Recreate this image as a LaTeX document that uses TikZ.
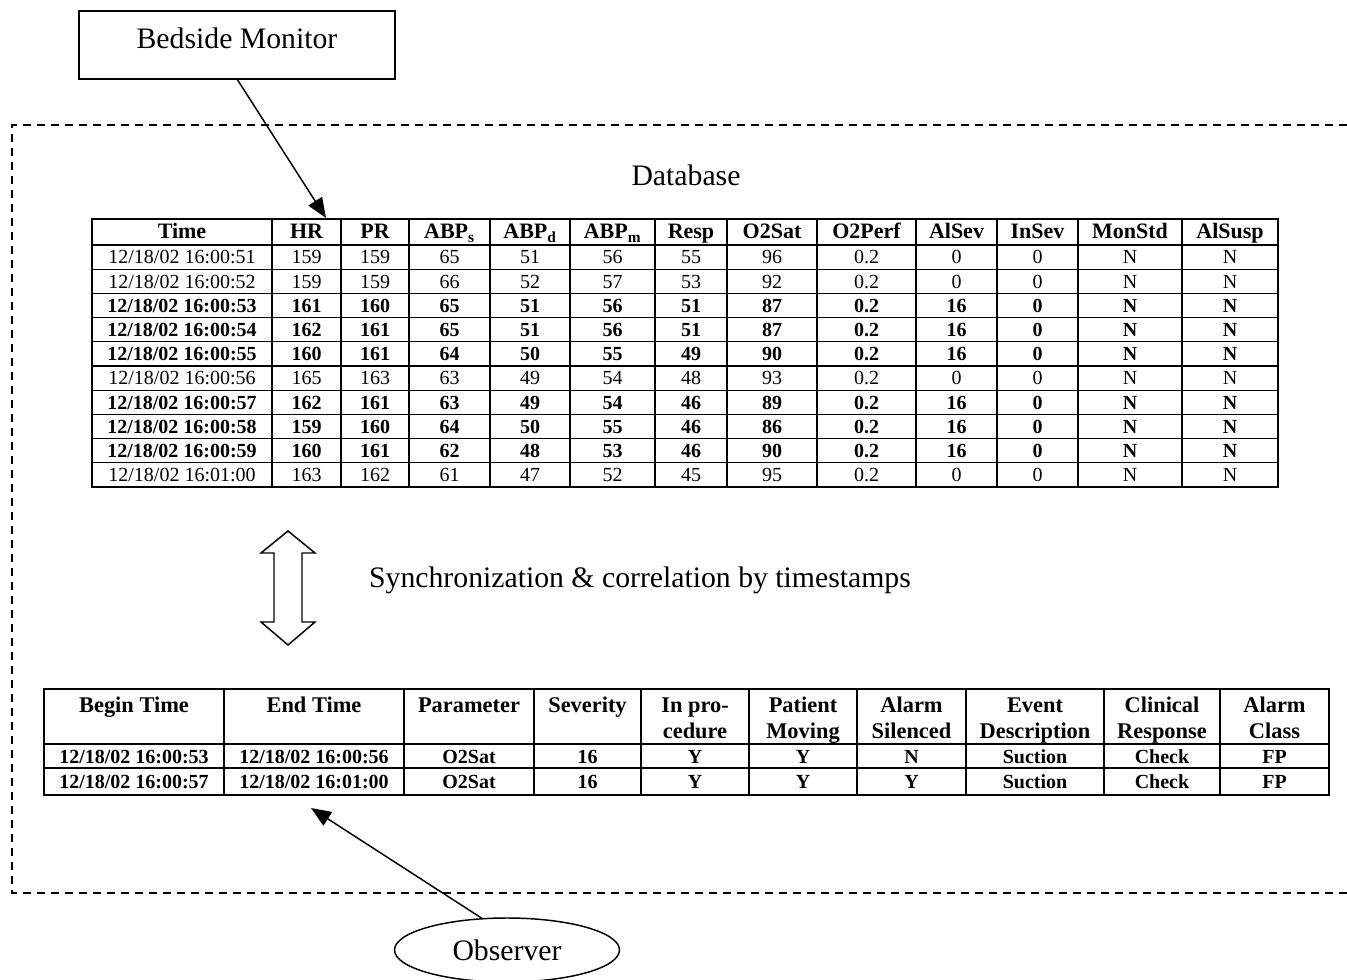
\documentclass[tikz,border=0pt]{standalone}
\usepackage{fontspec}
\setmainfont{Liberation Serif}
\usetikzlibrary{arrows.meta,shapes.geometric}
\def\dbx{{182,306.5,375,449.5,530,612.5,691,772,866.5,956.5,1037.5,1130,1230}}
\def\obx{{134,314,469,587.5,695,803,911.5,1035,1162,1274.5}}
\newcommand\dbrow[3]{%
  \foreach \v [count=\c] in {#3}{%
    \pgfmathsetmacro\xx{\dbx[\c-1]}%
    \node[#2, anchor=base] (db-#1-\c) at (\xx,{264+(#1-1)*24.2}) {\v};}}
\newcommand\obrow[2]{%
  \foreach \v [count=\c] in {#2}{%
    \pgfmathsetmacro\xx{\obx[\c-1]}%
    \node[obdata, anchor=base] (ob-#1-\c) at (\xx,{763+(#1-1)*25}) {\v};}}
\begin{document}
\begin{tikzpicture}[x=0.75pt,y=-0.75pt,
  every node/.style={inner sep=0pt, outer sep=0pt},
  tline/.style={line width=1pt},
  tframe/.style={draw, line width=1.4pt, anchor=north west},
  dbhead/.style={font=\fontsize{16.5}{18}\selectfont\bfseries},
  dbreg/.style={font=\fontsize{15}{17}\selectfont},
  dbbold/.style={font=\fontsize{15}{17}\selectfont\bfseries},
  obhead/.style={font=\fontsize{16.8}{19}\selectfont\bfseries},
  obdata/.style={font=\fontsize{15}{17}\selectfont\bfseries},
  bigtext/.style={font=\fontsize{22.3}{26}\selectfont},
  link/.style={line width=1.1pt, -{Triangle[length=15pt,width=12pt]}},
  region/.style={line width=1.1pt, dash pattern=on 6pt off 4.5pt}
]
\useasboundingbox (0,0) rectangle (1347,980);

% dashed region
\draw[region] (1347,125) -- (12,125) -- (12,893) -- (1347,893);

% Bedside monitor
\node[draw, line width=1.1pt, minimum width=316*0.75pt, minimum height=68*0.75pt] (bm) at (237,45) {};
\node[bigtext] (bmtext) at (237,38) {Bedside Monitor};

% Database label
\node[bigtext] (dblabel) at (686,175) {Database};

% top table
\node[tframe, minimum width=1186*0.75pt, minimum height=268*0.75pt] (db) at (92,219) {};
\foreach \x in {272,341,409,490,570,655,727,817,916,997,1078,1182}
  \draw[tline] (\x,219) -- (\x,487);
\foreach \k in {0,...,9}
  \draw[tline] (92,{245+\k*24.2}) -- (1278,{245+\k*24.2});
\foreach \v [count=\c] in {Time,HR,PR,ABP\textsubscript{s},ABP\textsubscript{d},ABP\textsubscript{m},Resp,O2Sat,O2Perf,AlSev,InSev,MonStd,AlSusp}{%
  \pgfmathsetmacro\xx{\dbx[\c-1]}%
  \node[dbhead, anchor=base] (dbh-\c) at (\xx,239) {\v};}
\dbrow{1}{dbreg}{12/18/02 16:00:51,159,159,65,51,56,55,96,0.2,0,0,N,N}
\dbrow{2}{dbreg}{12/18/02 16:00:52,159,159,66,52,57,53,92,0.2,0,0,N,N}
\dbrow{3}{dbbold}{12/18/02 16:00:53,161,160,65,51,56,51,87,0.2,16,0,N,N}
\dbrow{4}{dbbold}{12/18/02 16:00:54,162,161,65,51,56,51,87,0.2,16,0,N,N}
\dbrow{5}{dbbold}{12/18/02 16:00:55,160,161,64,50,55,49,90,0.2,16,0,N,N}
\dbrow{6}{dbreg}{12/18/02 16:00:56,165,163,63,49,54,48,93,0.2,0,0,N,N}
\dbrow{7}{dbbold}{12/18/02 16:00:57,162,161,63,49,54,46,89,0.2,16,0,N,N}
\dbrow{8}{dbbold}{12/18/02 16:00:58,159,160,64,50,55,46,86,0.2,16,0,N,N}
\dbrow{9}{dbbold}{12/18/02 16:00:59,160,161,62,48,53,46,90,0.2,16,0,N,N}
\dbrow{10}{dbreg}{12/18/02 16:01:00,163,162,61,47,52,45,95,0.2,0,0,N,N}

\coordinate (dbin) at (326,218);
\draw[link] (bm.south) -- (dbin);

% double arrow
\draw[line width=1.1pt, fill=white] (288,531) -- (315,553) -- (302,553) -- (302,622) -- (315,622)
  -- (288,645) -- (261,622) -- (274,622) -- (274,553) -- (261,553) -- cycle;
\node[bigtext, anchor=base] (sync) at (640,588) {Synchronization \& correlation by timestamps};

% bottom table
\node[tframe, minimum width=1285*0.75pt, minimum height=106*0.75pt] (obs) at (44,689) {};
\foreach \x in {224,404,534,641,749,857,966,1104,1220}
  \draw[tline] (\x,689) -- (\x,795);
\draw[tline] (44,744) -- (1329,744);
\draw[tline] (44,768) -- (1329,768);
\foreach \v [count=\c] in {Begin Time,End Time,Parameter,Severity,In pro-,Patient,Alarm,Event,Clinical,Alarm}{%
  \pgfmathsetmacro\xx{\obx[\c-1]}%
  \node[obhead, anchor=base] (obh-\c) at (\xx,712) {\v};}
\foreach \v [count=\c from 5] in {cedure,Moving,Silenced,Description,Response,Class}{%
  \pgfmathsetmacro\xx{\obx[\c-1]}%
  \node[obhead, anchor=base] (obh2-\c) at (\xx,738) {\v};}
\obrow{1}{12/18/02 16:00:53,12/18/02 16:00:56,O2Sat,16,Y,Y,N,Suction,Check,FP}
\obrow{2}{12/18/02 16:00:57,12/18/02 16:01:00,O2Sat,16,Y,Y,Y,Suction,Check,FP}

% observer
\node[draw, ellipse, line width=1.1pt, minimum width=225*0.75pt, minimum height=64*0.75pt, bigtext] (observer) at (507,950) {Observer};
\coordinate (obsin) at (311,808);
\draw[link] (observer.128) -- (obsin);
\end{tikzpicture}
\end{document}
